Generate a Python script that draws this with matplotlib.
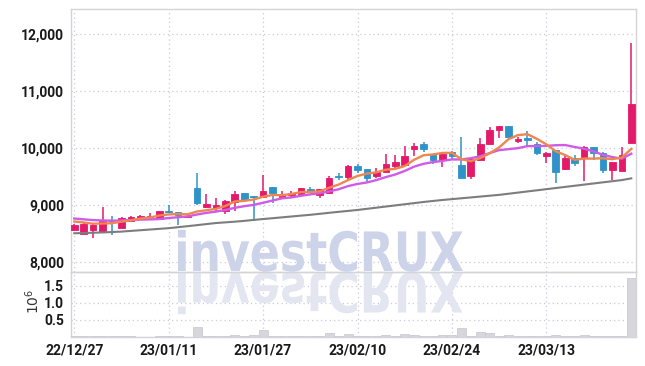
import matplotlib
matplotlib.use("Agg")
import matplotlib.pyplot as plt
import numpy as np
from matplotlib.textpath import TextPath
from matplotlib.font_manager import FontProperties
from matplotlib.patches import PathPatch
from matplotlib.transforms import Affine2D, IdentityTransform

# trading days shown on the chart
dates = [
    "22/12/27", "22/12/28", "22/12/29", "23/01/02", "23/01/03", "23/01/04",
    "23/01/05", "23/01/06", "23/01/09", "23/01/10", "23/01/11", "23/01/12",
    "23/01/13", "23/01/16", "23/01/17", "23/01/18", "23/01/19", "23/01/20",
    "23/01/25", "23/01/26", "23/01/27", "23/01/30", "23/01/31", "23/02/01",
    "23/02/02", "23/02/03", "23/02/06", "23/02/07", "23/02/08", "23/02/09",
    "23/02/10", "23/02/13", "23/02/14", "23/02/15", "23/02/16", "23/02/17",
    "23/02/20", "23/02/21", "23/02/22", "23/02/23", "23/02/24", "23/02/27",
    "23/02/28", "23/03/02", "23/03/03", "23/03/06", "23/03/07", "23/03/08",
    "23/03/09", "23/03/10", "23/03/13", "23/03/14", "23/03/15", "23/03/16",
    "23/03/17", "23/03/20", "23/03/21", "23/03/22", "23/03/23", "23/03/24",
]

opens = [8550, 8490, 8550, 8530, 8740, 8600, 8710, 8760, 8790, 8755,
         8900, 8870, 8780, 9300, 8955, 8945, 8900, 9050, 9205, 9140,
         9135, 9315, 9130, 9165, 9195, 9275, 9170, 9205, 9500, 9495,
         9685, 9625, 9500, 9575, 9690, 9700, 9985, 10065, 9895, 9790,
         9920, 9700, 9500, 9790, 10065, 10315, 10385, 10130, 10170, 10070,
         9850, 9965, 9625, 9820, 9835, 10010, 9905, 9615, 9600, 10080]
highs = [8660, 8680, 8660, 8960, 8800, 8790, 8800, 8830, 8850, 8900,
         8990, 8880, 8820, 9560, 9190, 9120, 9080, 9240, 9210, 9150,
         9530, 9320, 9235, 9235, 9300, 9310, 9280, 9510, 9560, 9700,
         9720, 9630, 9640, 9890, 9880, 10035, 10080, 10110, 9900, 9900,
         9950, 10190, 9810, 10170, 10375, 10390, 10390, 10200, 10300, 10110,
         9930, 9970, 9880, 9880, 10030, 10020, 9920, 9760, 10010, 11840]
lows = [8540, 8480, 8420, 8530, 8470, 8590, 8700, 8740, 8750, 8750,
        8860, 8650, 8760, 9000, 8950, 8880, 8840, 8900, 9085, 8720,
        9120, 9030, 9120, 9140, 9190, 9210, 9120, 9200, 9430, 9440,
        9560, 9400, 9470, 9570, 9645, 9700, 9850, 9930, 9720, 9660,
        9800, 9480, 9450, 9780, 10060, 10170, 10140, 10090, 10020, 9880,
        9730, 9380, 9620, 9690, 9410, 9790, 9565, 9440, 9600, 10080]
closes = [8640, 8670, 8650, 8710, 8720, 8770, 8785, 8810, 8800, 8895,
          8870, 8815, 8790, 9040, 9010, 8990, 9065, 9190, 9090, 9130,
          9240, 9215, 9165, 9205, 9295, 9245, 9275, 9475, 9490, 9685,
          9615, 9480, 9585, 9720, 9760, 9860, 10035, 9980, 9790, 9895,
          9865, 9480, 9800, 10065, 10315, 10385, 10200, 10160, 10145, 9905,
          9905, 9585, 9830, 9730, 10010, 9905, 9615, 9750, 9875, 10770]

# moving averages as drawn
ma5 = [8707, 8690, 8668, 8672, 8678, 8704, 8727, 8759, 8777, 8812,
       8832, 8838, 8834, 8882, 8905, 8929, 8979, 9059, 9069, 9093,
       9143, 9173, 9168, 9191, 9224, 9225, 9237, 9299, 9356, 9434,
       9508, 9549, 9571, 9617, 9632, 9681, 9792, 9871, 9885, 9912,
       9913, 9802, 9766, 9821, 9905, 10009, 10153, 10225, 10241, 10159,
       10063, 9940, 9874, 9791, 9812, 9812, 9818, 9802, 9831, 9983]
ma10 = [8760, 8745, 8732, 8725, 8722, 8726, 8733, 8740, 8744, 8750,
        8768, 8783, 8797, 8830, 8859, 8881, 8909, 8947, 8976, 8999,
        9036, 9076, 9114, 9130, 9159, 9184, 9205, 9234, 9274, 9329,
        9367, 9393, 9435, 9487, 9533, 9595, 9671, 9721, 9751, 9772,
        9797, 9797, 9819, 9853, 9909, 9961, 9978, 9996, 10031, 10032,
        10036, 10047, 10050, 10016, 9986, 9938, 9879, 9838, 9811, 9898]
ma_long = [8500, 8505, 8510, 8515, 8522, 8530, 8542, 8554, 8566, 8578,
           8590, 8607, 8625, 8643, 8662, 8680, 8692, 8704, 8718, 8735,
           8750, 8765, 8780, 8795, 8810, 8825, 8842, 8860, 8877, 8893,
           8910, 8930, 8950, 8970, 8990, 9010, 9030, 9050, 9068, 9085,
           9100, 9115, 9130, 9145, 9160, 9175, 9195, 9215, 9235, 9255,
           9275, 9295, 9315, 9335, 9355, 9375, 9395, 9415, 9435, 9465]

# volume in millions
volume = [0.02, 0.03, 0.03, 0.04, 0.03, 0.03, 0.02, 0.01, 0.01, 0.03,
          0.02, 0.02, 0.01, 0.29, 0.04, 0.03, 0.02, 0.07, 0.03, 0.06,
          0.21, 0.03, 0.02, 0.03, 0.03, 0.02, 0.03, 0.12, 0.04, 0.08,
          0.03, 0.03, 0.02, 0.06, 0.03, 0.10, 0.07, 0.03, 0.02, 0.06,
          0.05, 0.27, 0.04, 0.14, 0.11, 0.04, 0.06, 0.02, 0.03, 0.04,
          0.02, 0.06, 0.03, 0.02, 0.06, 0.03, 0.03, 0.02, 0.04, 1.72]

price_ticks = [8000, 9000, 10000, 11000, 12000]
vol_ticks = [0.5, 1.0, 1.5]

UP = "#e5196a"
DOWN = "#2f93c9"
GRID = "#c9cbdb"
SPINE = "#d4d4d8"
TICK_FONT = "Roboto"

W, H = 645, 366
fig = plt.figure(figsize=(W / 100, H / 100), dpi=100)
fig.patch.set_facecolor("white")
ax = fig.add_axes([71 / W, 1 - 272 / H, 565 / W, 263 / H])
axv = fig.add_axes([71 / W, 1 - 337 / H, 565 / W, 65 / H], sharex=ax)

x = np.arange(len(dates))
o = np.array(opens)
c = np.array(closes)
up = c >= o
cols = np.where(up, UP, DOWN)

# candles
ax.vlines(x, lows, highs, colors=cols, linewidth=1.1, zorder=3)
body_lo = np.minimum(o, c)
body_h = np.maximum(np.abs(c - o), 22)
ax.bar(x, body_h, bottom=body_lo, width=0.7, color=cols, edgecolor=cols,
       linewidth=0.6, zorder=3)

ax.plot(x, ma_long, color="#7d7d7d", linewidth=1.5, zorder=4)
ax.plot(x, ma10, color="#cf5be6", linewidth=1.7, zorder=4)
ax.plot(x, ma5, color="#ee8650", linewidth=1.7, zorder=5)

axv.bar(x, volume, width=0.95, color="#d6d6dc", edgecolor="#c6c6ce",
        linewidth=0.5, zorder=3)

ax.set_yticks(price_ticks)
ax.set_yticklabels([f"{v:,}" for v in price_ticks])
axv.set_yticks(vol_ticks)
axv.set_yticklabels([f"{v:.1f}" for v in vol_ticks])
axv.set_xticks(x[::10])
axv.set_xticklabels(dates[::10])
ax.tick_params(axis="x", labelbottom=False)

for a in (ax, axv):
    a.set_facecolor("none")
    a.grid(True, linestyle=(0, (1, 2.5)), color=GRID, linewidth=0.9, zorder=0)
    a.set_axisbelow(True)
    a.tick_params(length=0, pad=5, labelsize=10, labelcolor="#1a1a1a")
    for s in a.spines.values():
        s.set_color(SPINE)
        s.set_linewidth(1.0)
    for lab in a.get_xticklabels() + a.get_yticklabels():
        lab.set_family(TICK_FONT)
        lab.set_fontweight("bold")

fig.text(33 / W, 1 - 301 / H, r"$10^{6}$", rotation=90, ha="center",
         va="center", fontsize=10, color="#333333", family="DejaVu Serif")

# watermark with its reflection
tp = TextPath((0, 0), "investCRUX", size=100,
              prop=FontProperties(family="DejaVu Sans", weight="bold"))
bb = tp.get_extents()
sx = 285 / bb.width
sy = 42 / bb.height
base_y = H - 272
main = Affine2D().translate(-bb.x0, 0).scale(sx, sy).translate(178, base_y + 1)
refl = Affine2D().translate(-bb.x0, 0).scale(sx, -sy).translate(178, base_y - 1)
ax.add_patch(PathPatch(main.transform_path(tp), transform=IdentityTransform(),
                       facecolor="#cdd3e8", edgecolor="none", zorder=1))
axv.add_patch(PathPatch(refl.transform_path(tp), transform=IdentityTransform(),
                        facecolor="#e3e6f0", edgecolor="none", zorder=1))

ax.set_xlim(-0.35, 59.5)
ax.set_ylim(7820, 12440)
axv.set_ylim(0, 1.9)

plt.savefig("out.png", dpi=100)
plt.close()
